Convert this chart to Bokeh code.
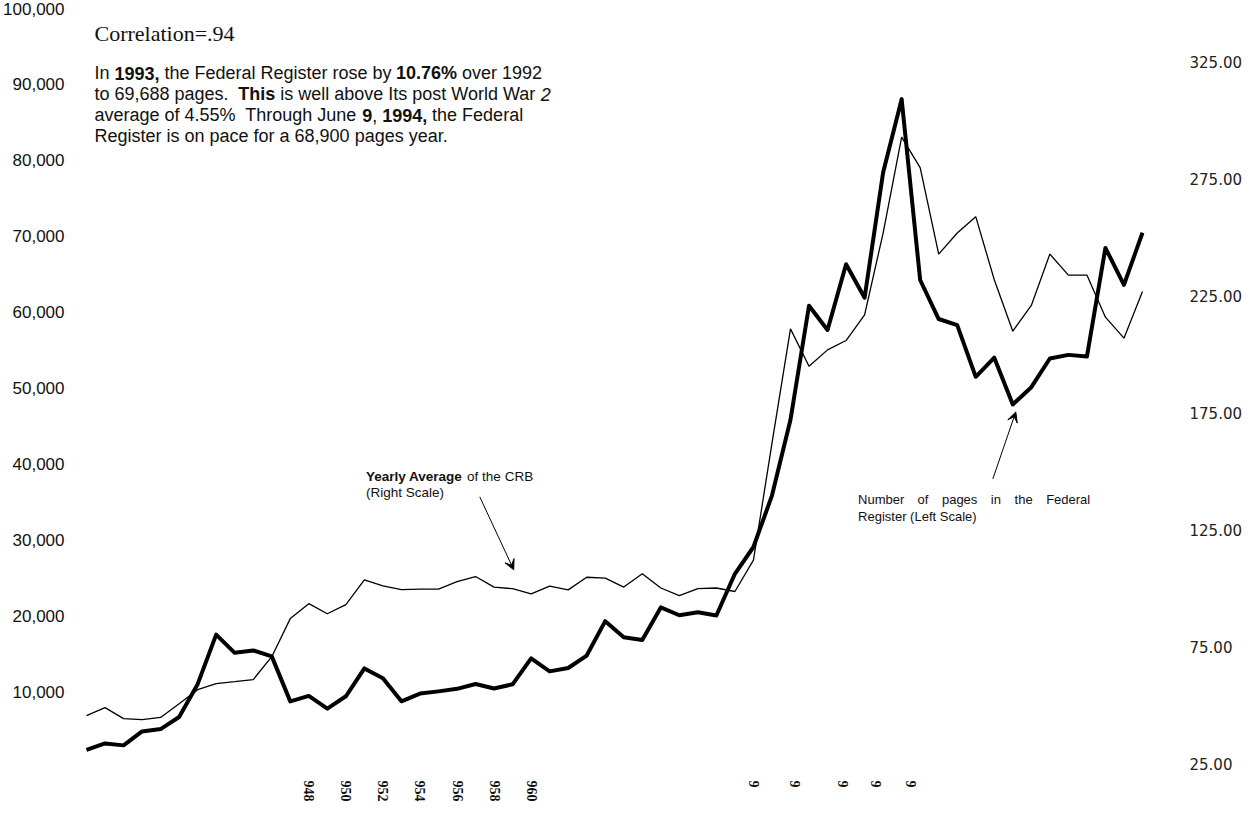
from bokeh.plotting import figure
from bokeh.models import (Range1d, LinearAxis, FixedTicker, NumeralTickFormatter,
                          Label, Arrow, VeeHead)
from bokeh.embed import file_html
from bokeh.resources import INLINE

# ---------------- data ----------------
years = list(range(1936, 1994))
pages = [2620, 3450, 3194, 5007, 5307, 6877, 11134, 17553, 15194, 15508,
         14736, 8902, 9608, 7952, 9562, 13175, 11896, 8912, 9910, 10196,
         10528, 11156, 10579, 11116, 14479, 12792, 13226, 14842, 19304, 17206,
         16850, 21088, 20068, 20464, 20036, 25447, 28924, 35592, 45422, 60221,
         57072, 65603, 61261, 77498, 87012, 63554, 58494, 57704, 50998, 53480,
         47418, 49654, 53376, 53842, 53620, 67716, 62928, 69688]
crb = [45.5, 48.9, 44.2, 43.8, 44.7, 50.6, 56.6, 59.2, 60.0, 60.9,
       70.7, 87.0, 93.4, 89.1, 93.0, 103.6, 101.0, 99.4, 99.6, 99.6,
       102.8, 105.0, 100.5, 99.8, 97.6, 100.9, 99.3, 104.7, 104.3, 100.5,
       106.2, 100.1, 96.8, 99.8, 100.1, 98.6, 112.0, 162.0, 211.0, 195.0,
       202.0, 206.0, 217.0, 252.0, 293.0, 280.0, 243.0, 252.0, 259.0, 232.0,
       210.0, 221.0, 243.0, 234.0, 234.0, 216.0, 207.0, 227.0]

left_ticks = [10000, 20000, 30000, 40000, 50000, 60000, 70000, 80000, 90000, 100000]
right_ticks = [25, 75, 125, 175, 225, 275, 325]
x_ticks = [1948, 1950, 1952, 1954, 1956, 1958, 1960, 1972, 1974.2, 1976.8, 1978.6, 1980.5]
x_tick_labels = ["948", "950", "952", "954", "956", "958", "960",
                 "9\u2007\u2007", "9\u2007\u2007", "9\u2007\u2007", "9\u2007\u2007", "9\u2007\u2007"]

# paragraph as (text, style) runs per line
para_runs = [
    [("In ", "normal"), ("1993,", "bold"), (" the Federal Register rose by ", "normal"),
     ("10.76%", "bold"), (" over 1992", "normal")],
    [("to 69,688 pages.", "normal"), ("  This", "bold"),
     (" is well above Its post World War ", "normal"), ("2", "italic")],
    [("average of 4.55%", "normal"), ("  Through June ", "normal"), ("9", "bold"),
     (", ", "normal"), ("1994,", "bold"), (" the Federal", "normal")],
    [("Register is on pace for a 68,900 pages year.", "normal")],
]
crb_runs = [
    [("Yearly Average", "bold"), (" of the CRB", "normal")],
    [("(Right Scale)", "normal")],
]
fed_words = ["Number", "of", "pages", "in", "the", "Federal"]
fed_line2 = "Register (Left Scale)"

# ---------------- layout helpers (page px -> data) ----------------
PX_PER_YEAR = 18.56
def X(px):
    return 1936 + (px - 92) / PX_PER_YEAR
def Y(py):
    return (776 - py) / 760 * 100000

# Arial / Liberation Sans advance widths (1/1000 em)
REG = {' ': 278, ',': 278, '.': 278, '%': 889, '(': 333, ')': 333,
       'A': 667, 'B': 667, 'C': 722, 'E': 667, 'F': 611, 'I': 278, 'L': 556,
       'N': 722, 'R': 722, 'S': 667, 'T': 611, 'W': 944, 'Y': 667,
       'a': 556, 'b': 556, 'c': 500, 'd': 556, 'e': 556, 'f': 278, 'g': 556,
       'h': 556, 'i': 222, 'k': 500, 'l': 222, 'm': 833, 'n': 556, 'o': 556,
       'p': 556, 'r': 333, 's': 500, 't': 278, 'u': 556, 'v': 500, 'w': 722,
       'y': 500}
BOLD = {' ': 278, ',': 278, '.': 278, '%': 889, 'T': 611, 'h': 611, 'i': 278,
        's': 556, 'Y': 667, 'e': 556, 'a': 556, 'r': 389, 'l': 278, 'y': 556,
        'A': 722, 'v': 556, 'g': 611}
def tw(s, style, size):
    tbl = BOLD if style == "bold" else REG
    return sum(tbl.get(c, REG.get(c, 556)) for c in s) * size / 1000.0

p = figure(width=1244, height=804, output_backend="svg", toolbar_location=None,
           x_range=Range1d(X(88), X(1185)), y_range=Range1d(0, 100000),
           min_border_left=80, min_border_right=67, min_border_top=8,
           min_border_bottom=36, background_fill_color="white",
           border_fill_color="white")
p.outline_line_color = None
p.xgrid.visible = False
p.ygrid.visible = False
p.axis.visible = False

p.extra_y_ranges = {
    "pages": Range1d(2.5 / 7.72 * 1000, 762.5 / 7.72 * 1000),
    "crb": Range1d(25 - 4 / 2.34, 25 + 756 / 2.34),
}

def plain_axis(ax):
    ax.axis_line_color = None
    ax.major_tick_line_color = None
    ax.minor_tick_line_color = None
    ax.major_tick_out = 0
    ax.major_tick_in = 0
    return ax

la = plain_axis(LinearAxis(ticker=FixedTicker(ticks=left_ticks),
                           formatter=NumeralTickFormatter(format="0,0")))
la.major_label_standoff = 18
la.major_label_text_font = "Liberation Sans"
la.major_label_text_font_size = "17px"
la.major_label_text_color = "#111111"
p.add_layout(la, "left")

ra = plain_axis(LinearAxis(y_range_name="crb", ticker=FixedTicker(ticks=right_ticks),
                           formatter=NumeralTickFormatter(format="0.00")))
ra.major_label_standoff = 12
ra.major_label_text_font = "DejaVu Sans"
ra.major_label_text_font_size = "15px"
ra.major_label_text_color = "#222222"
p.add_layout(ra, "right")

ba = plain_axis(LinearAxis(ticker=FixedTicker(ticks=x_ticks),
                           major_label_overrides={t: s for t, s in zip(x_ticks, x_tick_labels)}))
ba.major_label_standoff = 13
ba.major_label_orientation = "vertical"
ba.major_label_text_font = "Liberation Serif"
ba.major_label_text_font_style = "bold"
ba.major_label_text_font_size = "14px"
ba.major_label_text_color = "#111111"
p.add_layout(ba, "below")

# lines
p.line(years, crb, y_range_name="crb", line_color="black", line_width=1.3)
p.line(years, pages, y_range_name="pages", line_color="black", line_width=4,
       line_join="round")

# texts
def add_runs(runs, x0, base, size, font="Liberation Sans"):
    cur = x0
    for text, style in runs:
        lead = len(text) - len(text.lstrip(" "))
        body = text.strip(" ")
        if body:
            p.add_layout(Label(x=X(cur + tw(" " * lead, style, size)), y=Y(base),
                               text=body, text_font=font,
                               text_font_size=f"{size}px",
                               text_font_style=style, text_color="#111111",
                               text_baseline="alphabetic"))
        cur += tw(text, style, size)

p.add_layout(Label(x=X(100), y=Y(41), text="Correlation=.94",
                   text_font="Liberation Serif", text_font_size="22px",
                   text_color="#111111", text_baseline="alphabetic"))
for i, runs in enumerate(para_runs):
    add_runs(runs, 100, 81 + 21 * i, 18)
for i, runs in enumerate(crb_runs):
    add_runs(runs, 372, 485 + 16 * i, 13.5)

word_px = [865, 924.6, 949, 998, 1021.8, 1053.4]
for w, xp in zip(fed_words, word_px):
    p.add_layout(Label(x=X(xp), y=Y(508), text=w,
                       text_font="Liberation Sans", text_font_size="13px",
                       text_color="#111111", text_baseline="alphabetic"))
p.add_layout(Label(x=X(865), y=Y(525), text=fed_line2,
                   text_font="Liberation Sans", text_font_size="13px",
                   text_color="#111111", text_baseline="alphabetic"))

# arrows
p.add_layout(Arrow(x_start=X(486), y_start=Y(505), x_end=X(520), y_end=Y(578),
                   line_color="black", line_width=1,
                   end=VeeHead(size=10, line_color="black", line_width=1)))
p.add_layout(Arrow(x_start=X(1000), y_start=Y(487), x_end=X(1023), y_end=Y(420),
                   line_color="black", line_width=1,
                   end=VeeHead(size=10, line_color="black", line_width=1)))

open("out.html", "w").write(file_html(p, INLINE))
